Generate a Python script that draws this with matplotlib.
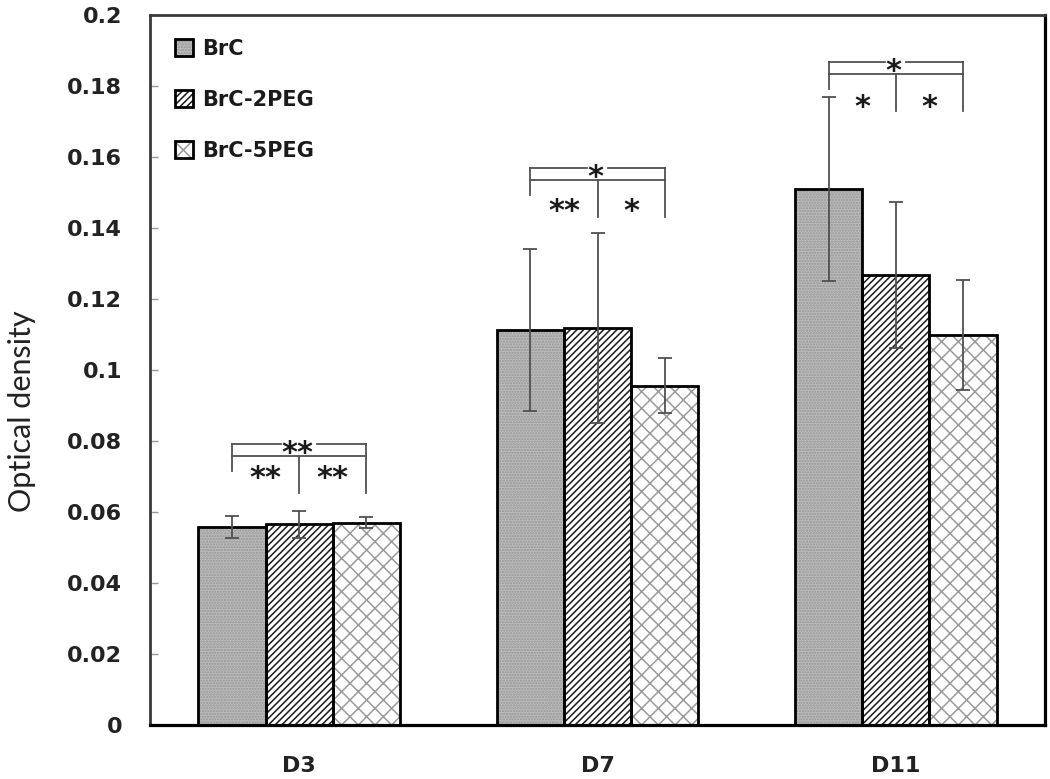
import matplotlib
matplotlib.use('Agg')
import matplotlib.pyplot as plt
import numpy as np
from matplotlib.patches import Patch
from matplotlib.legend_handler import HandlerTuple

# ---------------- data ----------------
groups = ['D3', 'D7', 'D11']
series = ['BrC', 'BrC-2PEG', 'BrC-5PEG']
brc = [0.0558, 0.1113, 0.1510]
brc_err = [0.0030, 0.0228, 0.0260]
peg2 = [0.0565, 0.1119, 0.1268]
peg2_err = [0.0038, 0.0267, 0.0205]
peg5 = [0.0570, 0.0956, 0.1099]
peg5_err = [0.0016, 0.0078, 0.0154]
ytick_values = [0, 0.02, 0.04, 0.06, 0.08, 0.1, 0.12, 0.14, 0.16, 0.18, 0.2]
ytick_labels = ['0', '0.02', '0.04', '0.06', '0.08', '0.1', '0.12', '0.14', '0.16', '0.18', '0.2']
# significance brackets (level of top line) and star levels
bracket_top = [0.0792, 0.1568, 0.1867]
star_level = [0.0721, 0.1473, 0.1766]
sig_overall = ['**', '*', '*']
sig_left = ['**', '**', '*']
sig_right = ['**', '*', '*']

# ---------------- style ----------------
W, H, DPI = 1050, 779, 100
fig = plt.figure(figsize=(W / DPI, H / DPI), dpi=DPI)
ax_l, ax_r, ax_b, ax_t = 150, 1045, 725, 15
ax = fig.add_axes([ax_l / W, 1 - ax_b / H, (ax_r - ax_l) / W, (ax_b - ax_t) / H])
ax.set_xlim(-0.5, 2.5)
ax.set_ylim(0, 0.2)

plt.rcParams['hatch.linewidth'] = 1.1
bw = 0.225
x = np.arange(len(groups))
values = [brc, peg2, peg5]
errors = [brc_err, peg2_err, peg5_err]
faces = ['#bdbdbd', 'white', 'white']
hatches = ['......', '/////', 'xx']
hatch_cols = ['#959595', '#1a1a1a', '#9a9a9a']
offsets = [-bw, 0, bw]

handles = []
for vals, errs, fc, hc, hcol, off in zip(values, errors, faces, hatches, hatch_cols, offsets):
    ax.bar(x + off, vals, bw, color=fc, edgecolor=hcol, hatch=hc, linewidth=0, zorder=2)
    ax.bar(x + off, vals, bw, facecolor='none', edgecolor='black', linewidth=2.0, zorder=3)
    ax.errorbar(x + off, vals, yerr=errs, fmt='none', ecolor='#505050', elinewidth=1.3,
                capsize=5, capthick=1.3, zorder=4)
    handles.append((Patch(facecolor=fc, edgecolor=hcol, hatch=hc, linewidth=0),
                    Patch(facecolor='none', edgecolor='black', linewidth=2.0)))

# pixel -> data conversions
ypp = 0.2 / (ax_b - ax_t)
xpp = 3.0 / (ax_r - ax_l)

lc = '#505050'
lw = 1.3
star_fs = 22
for i in range(len(groups)):
    xl, xm, xr = x[i] - bw, x[i], x[i] + bw
    top = bracket_top[i]
    inner = top - 12 * ypp
    # top line with a gap for the stars
    half_gap = (len(sig_overall[i]) * 15 + 6) / 2 * xpp
    ax.plot([xl, xm - half_gap], [top, top], color=lc, lw=lw, zorder=5)
    ax.plot([xm + half_gap, xr], [top, top], color=lc, lw=lw, zorder=5)
    ax.plot([xl, xr], [inner, inner], color=lc, lw=lw, zorder=5)
    ax.plot([xl, xl], [top, inner - 15 * ypp], color=lc, lw=lw, zorder=5)
    ax.plot([xr, xr], [top, inner - 37 * ypp], color=lc, lw=lw, zorder=5)
    ax.plot([xm, xm], [inner, inner - 37 * ypp], color=lc, lw=lw, zorder=5)
    for txt, xx, yy in [(sig_overall[i], xm - 2 * xpp, top),
                        (sig_left[i], (xl + xm) / 2, star_level[i]),
                        (sig_right[i], (xm + xr) / 2, star_level[i])]:
        ax.annotate(txt, xy=(xx, yy), xytext=(0, -0.58 * star_fs), textcoords='offset points',
                    ha='center', va='baseline', fontsize=star_fs, fontweight='bold',
                    color='#1a1a1a', family='DejaVu Sans', zorder=6)

# axes styling
for s in ['left', 'top']:
    ax.spines[s].set_color('#3a3a3a')
    ax.spines[s].set_linewidth(2.0)
for s in ['right', 'bottom']:
    ax.spines[s].set_color('black')
    ax.spines[s].set_linewidth(2.3)

ax.set_yticks(ytick_values)
ax.set_yticklabels(ytick_labels, fontsize=16, fontweight='bold', color='#222222')
ax.tick_params(axis='y', direction='in', length=6, width=1, color='#999999', pad=20)
ax.set_xticks(x)
ax.set_xticklabels(groups, fontsize=16, fontweight='bold', color='#222222')
ax.tick_params(axis='x', length=0, pad=22)

fig.text(22 / W, 1 - 411 / H, 'Optical density', rotation=90, ha='center', va='center',
         fontsize=22, family='Lato', color='#222222')

leg = ax.legend(handles, series, handler_map={tuple: HandlerTuple(ndivide=1, pad=0)},
                loc='upper left', bbox_to_anchor=(25 / (ax_r - ax_l), 1 - 24 / (ax_b - ax_t)),
                frameon=False, prop={'weight': 'bold', 'size': 15},
                handlelength=0.85, handleheight=0.85, handletextpad=0.45,
                labelspacing=1.48, borderpad=0, borderaxespad=0)
for t in leg.get_texts():
    t.set_color('#1a1a1a')

fig.savefig('out.png', dpi=DPI)
